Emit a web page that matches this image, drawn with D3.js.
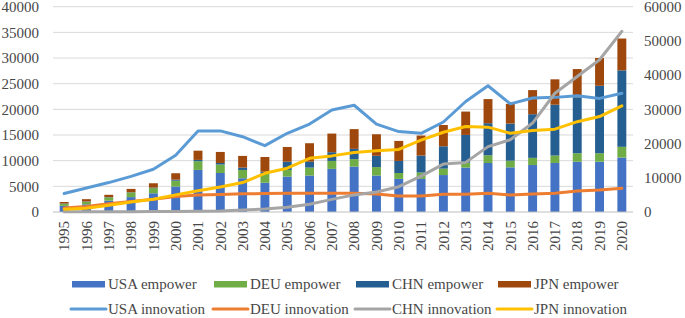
<!DOCTYPE html>
<html>
<head>
<meta charset="utf-8">
<script src="https://cdn.jsdelivr.net/npm/d3@7"></script>
<style>
    body { margin: 0; background: #fff; }
    svg text { font-family: "Liberation Serif", "Times New Roman", serif; font-size: 15px; fill: #474747; }
</style>
</head>
<body>
<svg id="chart" width="685" height="318"></svg>
<script>
const years = d3.range(1995, 2021).map(String);

// empower (left axis, stacked bars)
const usaEmpower = [1200, 1500, 2200, 2900, 3650, 4950, 8200, 7600, 6570, 5700, 6900, 7100, 8400, 8850, 7100, 6450, 6450, 7200, 8650, 9550, 8700, 9150, 9550, 9800, 9800, 10600];
const deuEmpower = [400, 500, 650, 900, 1000, 1150, 1700, 1650, 1620, 1700, 1300, 1550, 1550, 1450, 1650, 1150, 1250, 1250, 970, 1500, 1300, 1400, 1450, 1650, 1650, 2100];
const chnEmpower = [50, 50, 50, 50, 100, 200, 250, 300, 460, 450, 1600, 1150, 1700, 2000, 2200, 2350, 3300, 4350, 5400, 6250, 7230, 8500, 9900, 10900, 13150, 14900];
const jpnEmpower = [300, 450, 450, 650, 850, 1250, 1800, 2150, 2280, 2870, 2870, 3600, 3630, 3850, 4200, 3900, 3900, 4150, 4550, 4700, 3840, 4700, 4950, 5500, 5400, 6200];

// innovation (right axis, lines)
const usaInnovation = [5400, 7000, 8600, 10400, 12500, 16600, 23700, 23700, 22000, 19400, 23000, 25700, 29800, 31200, 25700, 23500, 23000, 26300, 32300, 36900, 31600, 33300, 33500, 34000, 33200, 34700];
const deuInnovation = [1200, 1600, 2400, 3100, 3700, 4500, 4950, 5100, 5300, 5400, 5460, 5460, 5460, 5460, 5270, 4680, 4680, 5170, 5170, 5460, 4980, 5270, 5460, 6150, 6440, 6930];
const chnInnovation = [50, 60, 80, 100, 120, 150, 200, 290, 590, 880, 1370, 2250, 3700, 5000, 5850, 7400, 10500, 14000, 14500, 19100, 21100, 26000, 34700, 39600, 44500, 52800];
const jpnInnovation = [800, 1100, 2000, 2900, 3700, 5000, 6200, 7300, 8600, 11300, 12800, 15700, 16400, 17400, 17900, 18300, 21000, 23300, 25000, 24800, 23000, 23800, 24200, 26400, 27900, 31000];

const leftTicks = [0, 5000, 10000, 15000, 20000, 25000, 30000, 35000, 40000];
const rightTicks = [0, 10000, 20000, 30000, 40000, 50000, 60000];

const barSeries = [
    { name: "USA empower", values: usaEmpower, color: "#4472C4" },
    { name: "DEU empower", values: deuEmpower, color: "#70AD47" },
    { name: "CHN empower", values: chnEmpower, color: "#255E91" },
    { name: "JPN empower", values: jpnEmpower, color: "#9E480E" }
];
const lineSeries = [
    { name: "USA innovation", values: usaInnovation, color: "#5B9BD5" },
    { name: "DEU innovation", values: deuInnovation, color: "#ED7D31" },
    { name: "CHN innovation", values: chnInnovation, color: "#A5A5A5" },
    { name: "JPN innovation", values: jpnInnovation, color: "#FFC000" }
];

const svg = d3.select("#chart");
const plotLeft = 53, plotRight = 633, plotTop = 6.7, plotBottom = 212;

const x = d3.scaleBand()
    .domain(years)
    .range([plotLeft, plotRight])
    .paddingInner(0.6)
    .paddingOuter(0.3);
const yL = d3.scaleLinear().domain([0, 40000]).range([plotBottom, plotTop]);
const yR = d3.scaleLinear().domain([0, 60000]).range([plotBottom, plotTop]);

// gridlines
svg.append("g")
    .selectAll("line")
    .data(leftTicks.slice(1))
    .enter()
    .append("line")
    .attr("x1", plotLeft).attr("x2", plotRight)
    .attr("y1", d => yL(d)).attr("y2", d => yL(d))
    .attr("stroke", "#d9d9d9")
    .attr("stroke-width", 1);

// stacked bars
const table = years.map((yr, i) => {
    const row = { year: yr };
    barSeries.forEach(s => { row[s.name] = s.values[i]; });
    return row;
});
const stacked = d3.stack().keys(barSeries.map(s => s.name))(table);

svg.append("g")
    .selectAll("g")
    .data(stacked)
    .enter()
    .append("g")
    .attr("fill", (d, i) => barSeries[i].color)
    .selectAll("rect")
    .data(d => d)
    .enter()
    .append("rect")
    .attr("x", d => x(d.data.year))
    .attr("y", d => yL(d[1]))
    .attr("width", x.bandwidth())
    .attr("height", d => yL(d[0]) - yL(d[1]));

// x axis line
svg.append("line")
    .attr("x1", plotLeft).attr("x2", plotRight)
    .attr("y1", plotBottom).attr("y2", plotBottom)
    .attr("stroke", "#bfbfbf")
    .attr("stroke-width", 1);

// lines
const line = d3.line()
    .x((d, i) => x(years[i]) + x.bandwidth() / 2)
    .y(d => yR(d));

svg.append("g")
    .selectAll("path")
    .data(lineSeries)
    .enter()
    .append("path")
    .attr("d", d => line(d.values))
    .attr("fill", "none")
    .attr("stroke", d => d.color)
    .attr("stroke-width", 3)
    .attr("stroke-linejoin", "round")
    .attr("stroke-linecap", "round");

// left axis labels
svg.append("g")
    .selectAll("text")
    .data(leftTicks)
    .enter()
    .append("text")
    .attr("x", 39)
    .attr("y", d => yL(d))
    .attr("dy", "0.35em")
    .attr("text-anchor", "end")
    .text(d => d);

// right axis labels
svg.append("g")
    .selectAll("text")
    .data(rightTicks)
    .enter()
    .append("text")
    .attr("x", 644)
    .attr("y", d => yR(d))
    .attr("dy", "0.35em")
    .attr("text-anchor", "start")
    .text(d => d);

// year labels
svg.append("g")
    .selectAll("text")
    .data(years)
    .enter()
    .append("text")
    .attr("transform", d => `translate(${x(d) + x.bandwidth() / 2},221) rotate(-90)`)
    .attr("dy", "0.35em")
    .attr("text-anchor", "end")
    .text(d => d);

// legend
const legend = svg.append("g");
barSeries.forEach((s, i) => {
    const lx = 72 + i * 142;
    legend.append("rect")
        .attr("x", lx).attr("y", 281)
        .attr("width", 33).attr("height", 6.5)
        .attr("fill", s.color);
    legend.append("text")
        .attr("x", lx + 36).attr("y", 284)
        .attr("dy", "0.35em")
        .text(s.name);
});
lineSeries.forEach((s, i) => {
    const lx = 71 + i * 142;
    legend.append("line")
        .attr("x1", lx).attr("x2", lx + 35)
        .attr("y1", 309).attr("y2", 309)
        .attr("stroke", s.color)
        .attr("stroke-width", 3)
        .attr("stroke-linecap", "round");
    legend.append("text")
        .attr("x", lx + 37).attr("y", 309)
        .attr("dy", "0.35em")
        .text(s.name);
});
</script>
</body>
</html>
